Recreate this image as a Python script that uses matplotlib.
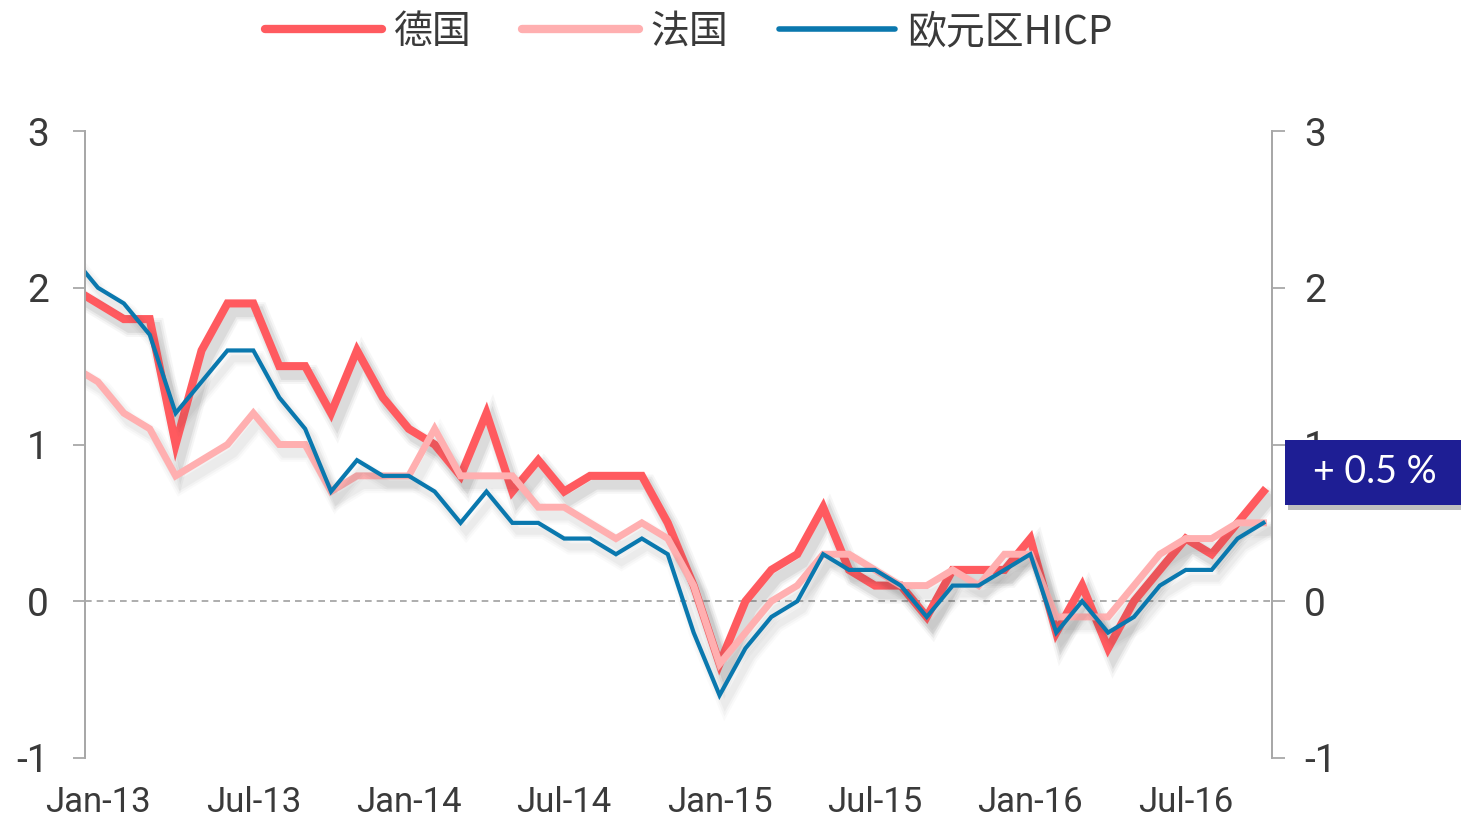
import numpy as np
import matplotlib
matplotlib.use("Agg")
import matplotlib.pyplot as plt
import matplotlib.patheffects as pe
from matplotlib.patches import Rectangle

# ---------------- data (Dec-12 .. Oct-16, monthly YoY %) ----------------
months = ["Dec-12",
          "Jan-13", "Feb-13", "Mar-13", "Apr-13", "May-13", "Jun-13", "Jul-13", "Aug-13", "Sep-13", "Oct-13", "Nov-13", "Dec-13",
          "Jan-14", "Feb-14", "Mar-14", "Apr-14", "May-14", "Jun-14", "Jul-14", "Aug-14", "Sep-14", "Oct-14", "Nov-14", "Dec-14",
          "Jan-15", "Feb-15", "Mar-15", "Apr-15", "May-15", "Jun-15", "Jul-15", "Aug-15", "Sep-15", "Oct-15", "Nov-15", "Dec-15",
          "Jan-16", "Feb-16", "Mar-16", "Apr-16", "May-16", "Jun-16", "Jul-16", "Aug-16", "Sep-16", "Oct-16"]

germany = [2.0,
           1.9, 1.8, 1.8, 1.0, 1.6, 1.9, 1.9, 1.5, 1.5, 1.2, 1.6, 1.3,
           1.1, 1.0, 0.8, 1.2, 0.7, 0.9, 0.7, 0.8, 0.8, 0.8, 0.5, 0.1,
           -0.4, 0.0, 0.2, 0.3, 0.6, 0.2, 0.1, 0.1, -0.1, 0.2, 0.2, 0.2,
           0.4, -0.2, 0.1, -0.3, 0.0, 0.2, 0.4, 0.3, 0.5, 0.7]

france = [1.5,
          1.4, 1.2, 1.1, 0.8, 0.9, 1.0, 1.2, 1.0, 1.0, 0.7, 0.8, 0.8,
          0.8, 1.1, 0.8, 0.8, 0.8, 0.6, 0.6, 0.5, 0.4, 0.5, 0.4, 0.1,
          -0.4, -0.2, 0.0, 0.1, 0.3, 0.3, 0.2, 0.1, 0.1, 0.2, 0.1, 0.3,
          0.3, -0.1, -0.1, -0.1, 0.1, 0.3, 0.4, 0.4, 0.5, 0.5]

euro_hicp = [2.2,
             2.0, 1.9, 1.7, 1.2, 1.4, 1.6, 1.6, 1.3, 1.1, 0.7, 0.9, 0.8,
             0.8, 0.7, 0.5, 0.7, 0.5, 0.5, 0.4, 0.4, 0.3, 0.4, 0.3, -0.2,
             -0.6, -0.3, -0.1, 0.0, 0.3, 0.2, 0.2, 0.1, -0.1, 0.1, 0.1, 0.2,
             0.3, -0.2, 0.0, -0.2, -0.1, 0.1, 0.2, 0.2, 0.4, 0.5]

series_names = ["德国", "法国", "欧元区HICP"]
tick_labels = ["Jan-13", "Jul-13", "Jan-14", "Jul-14", "Jan-15", "Jul-15", "Jan-16", "Jul-16"]
y_ticks = [-1, 0, 1, 2, 3]
annotation_text = "+ 0.5 %"

# ---------------- styling ----------------
RED = "#FF5A5F"
PINK = "#FFAFB0"
BLUE = "#0A78AE"
TXT = "#3A3A3A"
AXC = "#A8A8A8"
latin = ["Roboto", "DejaVu Sans"]

plt.rcParams["font.family"] = ["Noto Sans CJK SC", "DejaVu Sans"]

fig = plt.figure(figsize=(14.61, 8.19), dpi=100)
ax = fig.add_axes([85 / 1461, 1 - 758 / 819, (1272 - 85) / 1461, (758 - 131) / 819])

x = np.arange(len(months))


def shadow_effects(lw, strength):
    effs = []
    for add, a in [(8, 0.04), (5, 0.06), (2, 0.08)]:
        effs.append(pe.Stroke(offset=(4, -6), linewidth=lw + add,
                              foreground="#303030", alpha=a * strength))
    effs.append(pe.Normal())
    return effs


l1, = ax.plot(x, germany, color=RED, lw=5.8, solid_joinstyle="miter", zorder=3,
              label=series_names[0])
l1.set_path_effects(shadow_effects(5.8, 1.0))
l2, = ax.plot(x, france, color=PINK, lw=5.0, solid_joinstyle="miter", zorder=4,
              label=series_names[1])
l2.set_path_effects(shadow_effects(5.0, 0.5))
l3, = ax.plot(x, euro_hicp, color=BLUE, lw=3.0, solid_joinstyle="miter", zorder=5,
              label=series_names[2])
l3.set_path_effects(shadow_effects(3.0, 0.5))

ax.axhline(0, color="#A0A0A0", lw=1.2, ls=(0, (4, 3)), zorder=1)

ax.set_xlim(0.5, 46.33)
ax.set_ylim(-1, 3)

tick_pos = [months.index(t) for t in tick_labels]
ax.set_xticks(tick_pos)
ax.set_xticklabels(tick_labels, family=latin, fontsize=25, color=TXT)
ax.tick_params(axis="x", length=0, pad=20)

ax.set_yticks(y_ticks)
ax.set_yticklabels([str(v) for v in y_ticks], family=latin, fontsize=28, color=TXT)
ax.tick_params(axis="y", direction="out", length=9, width=1.3,
               color=AXC, pad=17)

ax2 = ax.twinx()
ax2.set_ylim(-1, 3)
ax2.set_yticks(y_ticks)
ax2.set_yticklabels([str(v) for v in y_ticks], family=latin, fontsize=28, color=TXT)
ax2.tick_params(axis="y", direction="out", length=9, width=1.3, color=AXC, pad=14)

for a in (ax, ax2):
    for s in ["top", "bottom"]:
        a.spines[s].set_visible(False)
    for s in ["left", "right"]:
        a.spines[s].set_color(AXC)
        a.spines[s].set_linewidth(1.3)

fig.patch.set_facecolor("white")

# legend
leg = fig.legend(handles=[l1, l2, l3], loc="center", ncol=3,
                 bbox_to_anchor=(689 / 1461, 1 - 32 / 819), frameon=False,
                 fontsize=28, handlelength=3.0, handletextpad=0.3,
                 columnspacing=1.3, labelcolor=TXT)
for h in leg.legend_handles:
    h.set_path_effects([])
    h.set_solid_capstyle("round")
leg.legend_handles[0].set_linewidth(6)
leg.legend_handles[1].set_linewidth(6)
leg.legend_handles[2].set_linewidth(4)

# annotation box
bx0, by0, bw, bh = 1285 / 1461, 1 - 505 / 819, (1461 - 1285) / 1461, 65 / 819
fig.patches.append(Rectangle((bx0 + 3 / 1461, by0 - 5 / 819), bw, bh, transform=fig.transFigure,
                             facecolor="#000000", alpha=0.25, edgecolor="none", zorder=9))
fig.patches.append(Rectangle((bx0, by0), bw, bh, transform=fig.transFigure,
                             facecolor="#1E1E94", edgecolor="none", zorder=10))
fig.text(1375 / 1461, 1 - 472 / 819, annotation_text, color="white", fontsize=27,
         family=["Lato", "DejaVu Sans"], ha="center", va="center", zorder=11)

fig.savefig("out.png", dpi=100)
